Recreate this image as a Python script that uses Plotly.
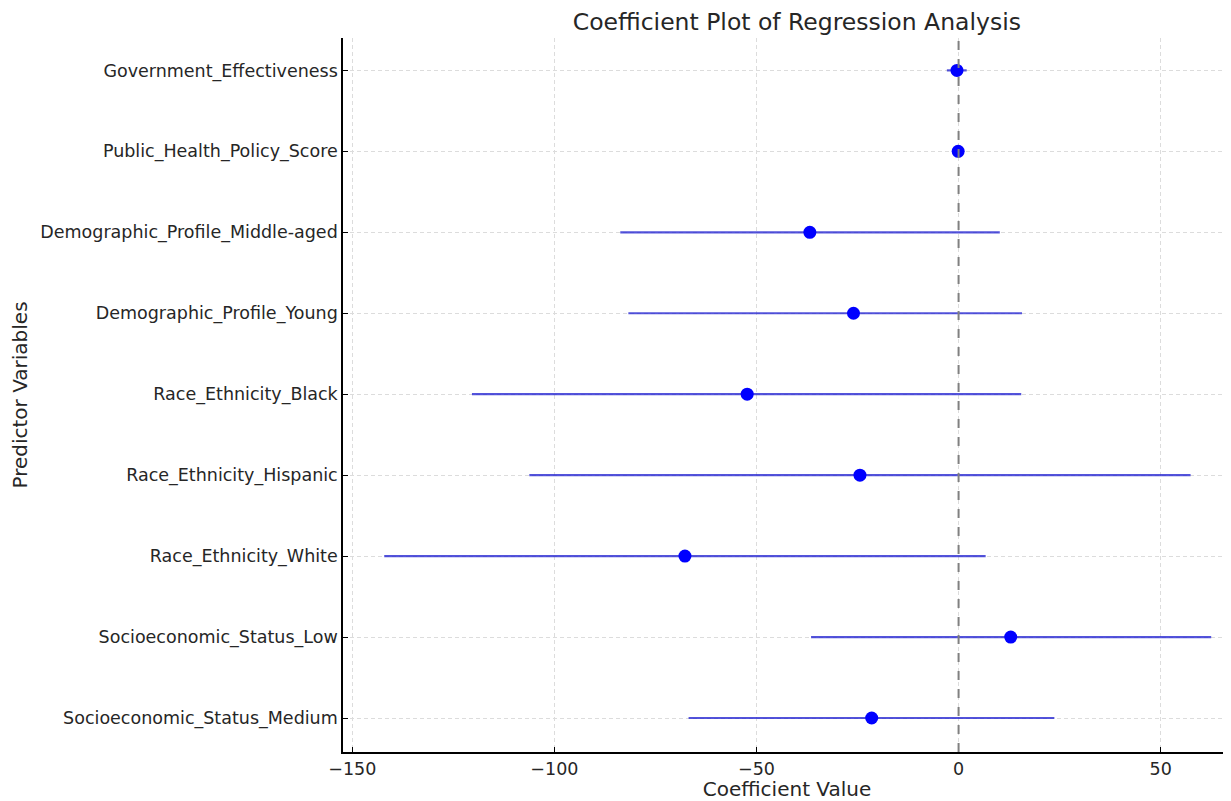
import plotly.graph_objects as go

# Data (bottom to top as drawn)
variables = [
    "Socioeconomic_Status_Medium",
    "Socioeconomic_Status_Low",
    "Race_Ethnicity_White",
    "Race_Ethnicity_Hispanic",
    "Race_Ethnicity_Black",
    "Demographic_Profile_Young",
    "Demographic_Profile_Middle-aged",
    "Public_Health_Policy_Score",
    "Government_Effectiveness",
]
coef = [-21.5, 12.9, -67.7, -24.4, -52.3, -26.0, -36.8, -0.1, -0.4]
ci_low = [-66.8, -36.5, -142.1, -106.2, -120.4, -81.7, -83.7, -0.6, -2.9]
ci_high = [23.7, 62.5, 6.7, 57.4, 15.5, 15.7, 10.2, 0.4, 2.0]
x_ticks = [-150, -100, -50, 0, 50]
x_tick_labels = ["\u2212150", "\u2212100", "\u221250", "0", "50"]

err_plus = [h - c for h, c in zip(ci_high, coef)]
err_minus = [c - l for c, l in zip(coef, ci_low)]

FONT = "DejaVu Sans"
TXT = "#262626"

fig = go.Figure()
fig.add_trace(go.Scatter(
    x=coef, y=variables, mode="markers",
    marker=dict(color="#0000ff", size=13),
    error_x=dict(type="data", symmetric=False, array=err_plus, arrayminus=err_minus,
                 color="rgba(40,40,210,0.8)", thickness=2.2, width=0),
    showlegend=False,
))

fig.add_shape(type="line", xref="x", yref="paper", x0=0, x1=0, y0=0, y1=1,
              line=dict(color="#808080", width=2, dash="dash"), layer="above")

fig.update_layout(
    width=1223, height=793,
    margin=dict(l=335, r=0, t=30, b=49),
    paper_bgcolor="white", plot_bgcolor="white",
    font=dict(family=FONT, color=TXT, size=17.5),
    title=dict(text="Coefficient Plot of Regression Analysis", x=0.645, xref="container",
               xanchor="center", y=0.982, yref="container", yanchor="middle",
               font=dict(size=23.5, color=TXT, family=FONT)),
    xaxis=dict(range=[-152.3, 67.4], tickvals=x_ticks, ticktext=x_tick_labels,
               showgrid=True, gridcolor="#dcdcdc", griddash="4px,3px", gridwidth=0.8,
               zeroline=False, showline=True, linecolor="black", linewidth=1.5,
               ticks="inside", ticklen=5, tickcolor="black",
               title=dict(text="Coefficient Value", font=dict(size=20), standoff=3),
               tickfont=dict(size=17.5)),
    yaxis=dict(type="category", categoryorder="array", categoryarray=variables,
               range=[-0.42, 8.4],
               showgrid=True, gridcolor="#dcdcdc", griddash="4px,3px", gridwidth=0.8,
               zeroline=False, showline=True, linecolor="black", linewidth=1.5,
               ticks="inside", ticklen=5, tickcolor="black",
               title=dict(text="Predictor Variables", font=dict(size=20), standoff=8),
               tickfont=dict(size=17.5)),
)

fig.write_html("out.html")
